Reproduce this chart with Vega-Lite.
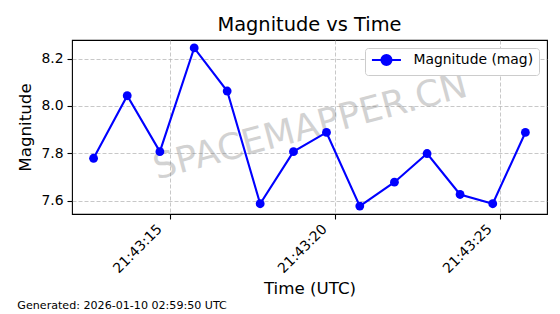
{
  "$schema": "https://vega.github.io/schema/vega-lite/v6.json",
  "padding": {"left": 17, "top": 14, "right": 14, "bottom": 2},
  "background": "white",
  "config": {
    "font": "DejaVu Sans",
    "view": {"stroke": "black", "strokeWidth": 1.1},
    "axis": {
      "domain": false,
      "tickColor": "black",
      "tickSize": 5,
      "tickWidth": 1.1,
      "labelColor": "black",
      "labelFontSize": 13.9,
      "labelPadding": 4,
      "titleColor": "black",
      "titleFontSize": 16.7,
      "titleFontWeight": "normal",
      "gridColor": "#b0b0b0",
      "gridOpacity": 0.7,
      "gridDash": [4, 2],
      "gridWidth": 1
    }
  },
  "title": {
    "text": "Generated: 2026-01-10 02:59:50 UTC",
    "orient": "bottom",
    "anchor": "start",
    "frame": "bounds",
    "fontSize": 11.1,
    "fontWeight": "normal",
    "color": "black",
    "offset": 2
  },
  "vconcat": [
    {
      "width": 475,
      "height": 174,
      "title": {
        "text": "Magnitude vs Time",
        "fontSize": 19.4,
        "fontWeight": "normal",
        "color": "black",
        "offset": 4.5
      },
      "encoding": {
        "x": {
          "field": "time",
          "type": "temporal",
          "title": "Time (UTC)",
          "scale": {"type": "utc", "domain": ["2026-01-09T21:43:12.036Z", "2026-01-09T21:43:26.435Z"], "nice": false},
          "axis": {
            "values": [
              {"year": 2026, "month": 1, "date": 9, "hours": 21, "minutes": 43, "seconds": 15, "utc": true},
              {"year": 2026, "month": 1, "date": 9, "hours": 21, "minutes": 43, "seconds": 20, "utc": true},
              {"year": 2026, "month": 1, "date": 9, "hours": 21, "minutes": 43, "seconds": 25, "utc": true}
            ],
            "labelExpr": "utcFormat(datum.value, '%H:%M:%S')",
            "labelAngle": 315,
            "labelAlign": "right",
            "labelBaseline": "alphabetic",
            "labelOffset": -7.5,
            "labelPadding": 10.5,
            "titlePadding": 5
          }
        },
        "y": {
          "field": "magnitude",
          "type": "quantitative",
          "title": "Magnitude",
          "scale": {"domain": [7.5436, 8.2784], "nice": false, "zero": false},
          "axis": {"values": [7.6, 7.8, 8.0, 8.2], "format": ".1f", "titlePadding": 6}
        }
      },
      "layer": [
        {
          "data": {"values": [{"time": "2026-01-09T21:43:19.26Z", "magnitude": 7.911, "label": "SPACEMAPPER.CN"}]},
          "mark": {"type": "text", "fontSize": 36, "angle": 345, "align": "center", "baseline": "middle", "fill": "#808080", "opacity": 0.35},
          "encoding": {
            "text": {"field": "label"}
          }
        },
        {
          "data": {"values": [
            {"time": "2026-01-09T21:43:12.69Z", "magnitude": 7.779, "series": "Magnitude (mag)"},
            {"time": "2026-01-09T21:43:13.71Z", "magnitude": 8.043, "series": "Magnitude (mag)"},
            {"time": "2026-01-09T21:43:14.70Z", "magnitude": 7.807, "series": "Magnitude (mag)"},
            {"time": "2026-01-09T21:43:15.74Z", "magnitude": 8.245, "series": "Magnitude (mag)"},
            {"time": "2026-01-09T21:43:16.74Z", "magnitude": 8.063, "series": "Magnitude (mag)"},
            {"time": "2026-01-09T21:43:17.74Z", "magnitude": 7.587, "series": "Magnitude (mag)"},
            {"time": "2026-01-09T21:43:18.75Z", "magnitude": 7.807, "series": "Magnitude (mag)"},
            {"time": "2026-01-09T21:43:19.75Z", "magnitude": 7.888, "series": "Magnitude (mag)"},
            {"time": "2026-01-09T21:43:20.76Z", "magnitude": 7.577, "series": "Magnitude (mag)"},
            {"time": "2026-01-09T21:43:21.81Z", "magnitude": 7.678, "series": "Magnitude (mag)"},
            {"time": "2026-01-09T21:43:22.80Z", "magnitude": 7.799, "series": "Magnitude (mag)"},
            {"time": "2026-01-09T21:43:23.80Z", "magnitude": 7.626, "series": "Magnitude (mag)"},
            {"time": "2026-01-09T21:43:24.79Z", "magnitude": 7.587, "series": "Magnitude (mag)"},
            {"time": "2026-01-09T21:43:25.78Z", "magnitude": 7.888, "series": "Magnitude (mag)"}
          ]},
          "encoding": {
            "color": {
              "field": "series",
              "type": "nominal",
              "scale": {"range": ["#0000ff"]},
              "legend": {
                "title": null,
                "orient": "top-right",
                "offset": 8,
                "fillColor": "white",
                "strokeColor": "#cccccc",
                "cornerRadius": 3,
                "padding": 5,
                "labelFontSize": 13.9,
                "labelColor": "black",
                "labelOffset": 20,
                "symbolType": "M-2.9,0L2.9,0M1,0A1,1 0 1,1 -1,0A1,1 0 1,1 1,0Z",
                "symbolSize": 100,
                "symbolOffset": 9.5,
                "symbolStrokeWidth": 2.1,
                "symbolFillColor": "#0000ff",
                "symbolStrokeColor": "#0000ff",
                "symbolOpacity": 1
              }
            }
          },
          "layer": [
            {"mark": {"type": "line", "strokeWidth": 2.1}},
            {"mark": {"type": "point", "shape": "circle", "filled": true, "opacity": 1, "size": 78}}
          ]
        }
      ]
    }
  ]
}
